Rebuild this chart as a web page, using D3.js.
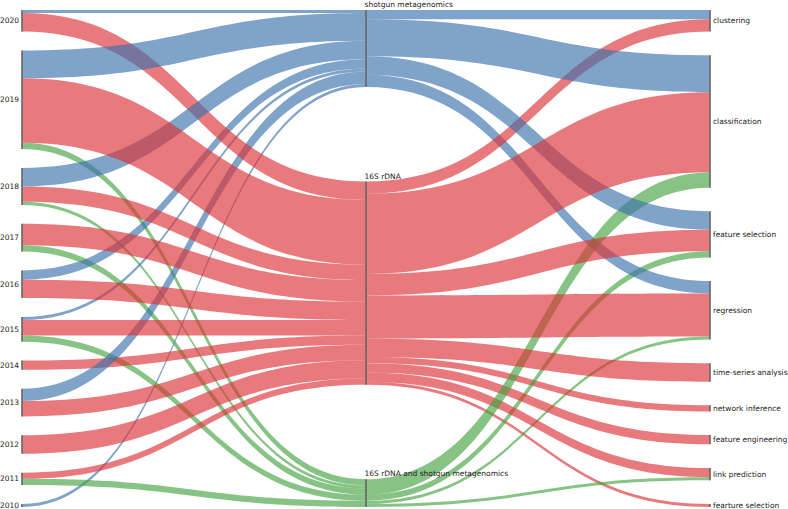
<!DOCTYPE html>
<html>
<head>
<meta charset="utf-8">
<script src="https://cdn.jsdelivr.net/npm/d3@7"></script>
<style>
    body { margin: 0; background: #fff; }
    svg { display: block; font-family: "DejaVu Sans", sans-serif; }
</style>
</head>
<body>
<div id="chart"></div>
<script>
// Columns
const years = ["2020", "2019", "2018", "2017", "2016", "2015", "2014", "2013", "2012", "2011", "2010"];
const methods = ["shotgun metagenomics", "16S rDNA", "16S rDNA and shotgun metagenomics"];
const tasks = ["clustering", "classification", "feature selection", "regression", "time-series analysis",
    "network inference", "feature engineering", "link prediction", "fearture selection"];

// Papers per year, one array per method (same order as years)
const yearShotgun = [1, 9, 6, 0, 3, 1, 0, 4, 0, 0, 1];
const year16S     = [6, 21, 5, 7, 6, 5, 3, 5, 6, 2, 0];
const yearBoth    = [0, 2, 1, 2, 0, 2, 0, 0, 0, 2, 0];

// Papers per task, one array per method (same order as tasks)
const taskShotgun = [3, 12, 6, 4, 0, 0, 0, 0, 0];
const task16S     = [4, 26, 7, 14, 6, 2, 3, 3, 1];
const taskBoth    = [0, 5, 2, 1, 0, 0, 0, 1, 0];

const methodColors = ["#3c72ac", "#dc3237", "#45a342"];

const width = 788, height = 509;
const plotTop = 10, plotBottom = 507;

const yearByMethod = [yearShotgun, year16S, yearBoth];
const taskByMethod = [taskShotgun, task16S, taskBoth];

const total = d3.sum(yearByMethod.flat());
const flowScale = d3.scaleLinear().domain([0, total]).range([0, 308]);
const colX = d3.scalePoint().domain([0, 1, 2]).range([22, 710]);

// stack nodes of one column so that the column fills the plot height
function stack(names, values) {
    const sumPx = d3.sum(values, v => flowScale(v));
    const gap = (plotBottom - plotTop - sumPx) / (names.length - 1);
    let y = plotTop;
    return names.map((name, i) => {
        const h = flowScale(values[i]);
        const node = {name, y0: y, y1: y + h, offIn: y, offOut: y};
        y += h + gap;
        return node;
    });
}

const yearNodes = stack(years, years.map((d, i) => d3.sum(yearByMethod, m => m[i])));
const methodNodes = stack(methods, yearByMethod.map(m => d3.sum(m)));
const taskNodes = stack(tasks, tasks.map((d, i) => d3.sum(taskByMethod, m => m[i])));

const links = [];
years.forEach((yr, i) => {
    methods.forEach((m, j) => {
        const v = yearByMethod[j][i];
        if (!v) return;
        const h = flowScale(v);
        const s = yearNodes[i], t = methodNodes[j];
        links.push({value: v, method: j, x0: colX(0), x1: colX(1), ys: s.offOut, yt: t.offIn, h});
        s.offOut += h;
        t.offIn += h;
    });
});
methods.forEach((m, j) => {
    tasks.forEach((tk, i) => {
        const v = taskByMethod[j][i];
        if (!v) return;
        const h = flowScale(v);
        const s = methodNodes[j], t = taskNodes[i];
        links.push({value: v, method: j, x0: colX(1), x1: colX(2), ys: s.offOut, yt: t.offIn, h});
        s.offOut += h;
        t.offIn += h;
    });
});

// band with constant vertical thickness, edges are horizontal beziers
function bandPath(d) {
    const xm = (d.x0 + d.x1) / 2;
    const p = d3.path();
    p.moveTo(d.x0, d.ys);
    p.bezierCurveTo(xm, d.ys, xm, d.yt, d.x1, d.yt);
    p.lineTo(d.x1, d.yt + d.h);
    p.bezierCurveTo(xm, d.yt + d.h, xm, d.ys + d.h, d.x0, d.ys + d.h);
    p.closePath();
    return p.toString();
}

const svg = d3.select("#chart").append("svg")
    .attr("width", width)
    .attr("height", height);

svg.append("g")
    .selectAll("path")
    .data(links.slice().sort((a, b) => a.value - b.value))
    .join("path")
    .attr("d", bandPath)
    .attr("fill", d => methodColors[d.method])
    .attr("fill-opacity", 0.65);

// node bars
const columns = [yearNodes, methodNodes, taskNodes];
columns.forEach((nodes, c) => {
    svg.append("g")
        .selectAll("line")
        .data(nodes)
        .join("line")
        .attr("x1", colX(c)).attr("x2", colX(c))
        .attr("y1", d => d.y0).attr("y2", d => d.y1)
        .attr("stroke", "#666")
        .attr("stroke-width", 1.6);
});

const labelStyle = sel => sel.attr("font-size", 7.5).attr("fill", "#222");

svg.append("g").selectAll("text")
    .data(yearNodes)
    .join("text")
    .attr("x", colX(0) - 3)
    .attr("y", d => (d.y0 + d.y1) / 2)
    .attr("dy", "0.35em")
    .attr("text-anchor", "end")
    .text(d => d.name)
    .call(labelStyle);

svg.append("g").selectAll("text")
    .data(methodNodes)
    .join("text")
    .attr("x", colX(1) - 1.5)
    .attr("y", d => d.y0 - 3)
    .text(d => d.name)
    .call(labelStyle);

svg.append("g").selectAll("text")
    .data(taskNodes)
    .join("text")
    .attr("x", colX(2) + 3)
    .attr("y", d => (d.y0 + d.y1) / 2)
    .attr("dy", "0.35em")
    .text(d => d.name)
    .call(labelStyle);
</script>
</body>
</html>
